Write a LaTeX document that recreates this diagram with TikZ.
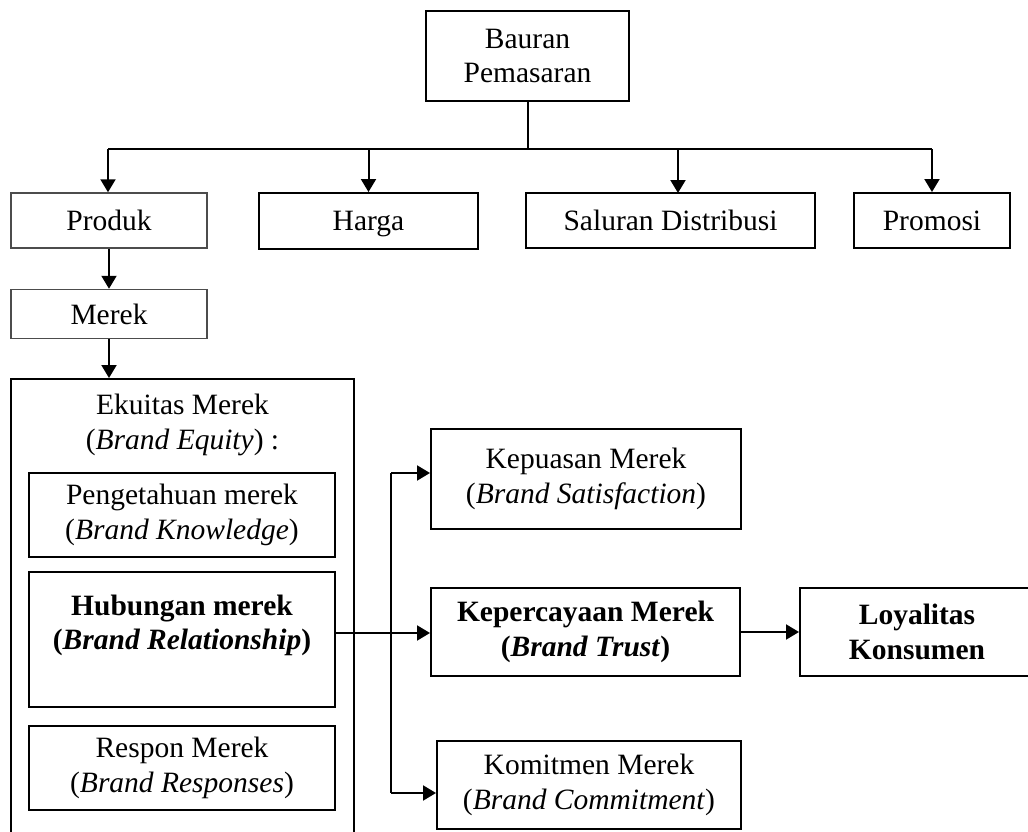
\documentclass[tikz,border=0pt]{standalone}
\usepackage{fontspec}
\setmainfont{Liberation Serif}
\usetikzlibrary{arrows.meta,positioning}

\begin{document}
\begin{tikzpicture}[
    x=1pt, y=-1pt,
    every node/.style={font=\fontsize{29.5}{34.5}\selectfont, align=center, inner sep=0pt},
    box/.style={rectangle, draw, line width=2pt},
    lightbox/.style={rectangle, draw=black!70, line width=1.5pt},
    single/.style={text depth=0pt},
    line/.style={draw, line width=2pt, -{Triangle[length=13pt,width=15pt]}},
    plain/.style={draw, line width=2pt}
]
\clip (0,0) rectangle (1028,831);

% Top
\node [box, minimum width=203pt, minimum height=90pt] (bauran) at (527.5,56) {Bauran\\Pemasaran};

% Marketing mix
\node [lightbox, single, minimum width=196pt, minimum height=55pt] (produk) at (109,220.5) {Produk};
\node [box, single, minimum width=219pt, minimum height=56pt] (harga) at (368.5,221) {Harga};
\node [box, single, minimum width=289pt, minimum height=55pt] (saluran) at (670.5,220.5) {Saluran Distribusi};
\node [box, single, minimum width=156pt, minimum height=55pt] (promosi) at (932,220.5) {Promosi};

% Brand
\node [lightbox, single, minimum width=196pt, minimum height=49pt, below=40pt of produk] (merek) {Merek};

% Brand equity
\node [box, minimum width=343pt, minimum height=466pt] (ekuitas) at (182.5,612) {};
\node (ekuitas_title) at (182.5,425) {Ekuitas Merek\\(\textit{Brand Equity}) :};
\node [box, minimum width=306pt, minimum height=84pt] (pengetahuan) at (182,515) {Pengetahuan merek\\(\textit{Brand Knowledge})};
\node [box, minimum width=306pt, minimum height=135pt] (hubungan) at (182,639.5) {\bfseries Hubungan merek\\\bfseries(\textit{Brand Relationship})\\\mbox{}};
\node [box, minimum width=306pt, minimum height=84pt] (respon) at (182,768) {Respon Merek\\(\textit{Brand Responses})};

% Relationship quality
\node [box, minimum width=310pt, minimum height=100pt] (kepuasan) at (586,479) {Kepuasan Merek\\(\textit{Brand Satisfaction})};
\node [box, minimum width=309pt, minimum height=88pt] (kepercayaan) at (585.5,632) {\bfseries Kepercayaan Merek\\\bfseries(\textit{Brand Trust})};
\node [box, minimum width=304pt, minimum height=88pt] (komitmen) at (589,785) {Komitmen Merek\\(\textit{Brand Commitment})};

% Output
\node [box, minimum width=234pt, minimum height=88pt] (loyalitas) at (917,632) {\bfseries Loyalitas\\\bfseries Konsumen};

% Split points
\coordinate (split) at (527.5,149);
\coordinate (bus_l) at (108,149);
\coordinate (bus_r) at (932,149);
\coordinate (fork_top) at (391,473);
\coordinate (fork_bot) at (391,793);

% Connections
\path [plain] (bauran.south) -- (split);
\path [plain] (bus_l) -- (bus_r);
\path [line] (bus_l) -- (bus_l |- produk.north);
\path [line] (split -| harga.north) -- (harga.north);
\path [line] (678,149) -- (678,193);
\path [line] (bus_r) -- (promosi.north);

\path [line] (produk.south) -- (merek.north);
\path [line] (merek.south) -- (merek.south |- ekuitas.north);

\path [line] (hubungan.east |- 0,633) -- (kepercayaan.west |- 0,633);
\path [plain] (fork_top) -- (fork_bot);
\path [line] (fork_top) -- (fork_top -| kepuasan.west);
\path [line] (fork_bot) -- (fork_bot -| komitmen.west);

\path [line] (kepercayaan.east) -- (loyalitas.west);

\end{tikzpicture}
\end{document}
